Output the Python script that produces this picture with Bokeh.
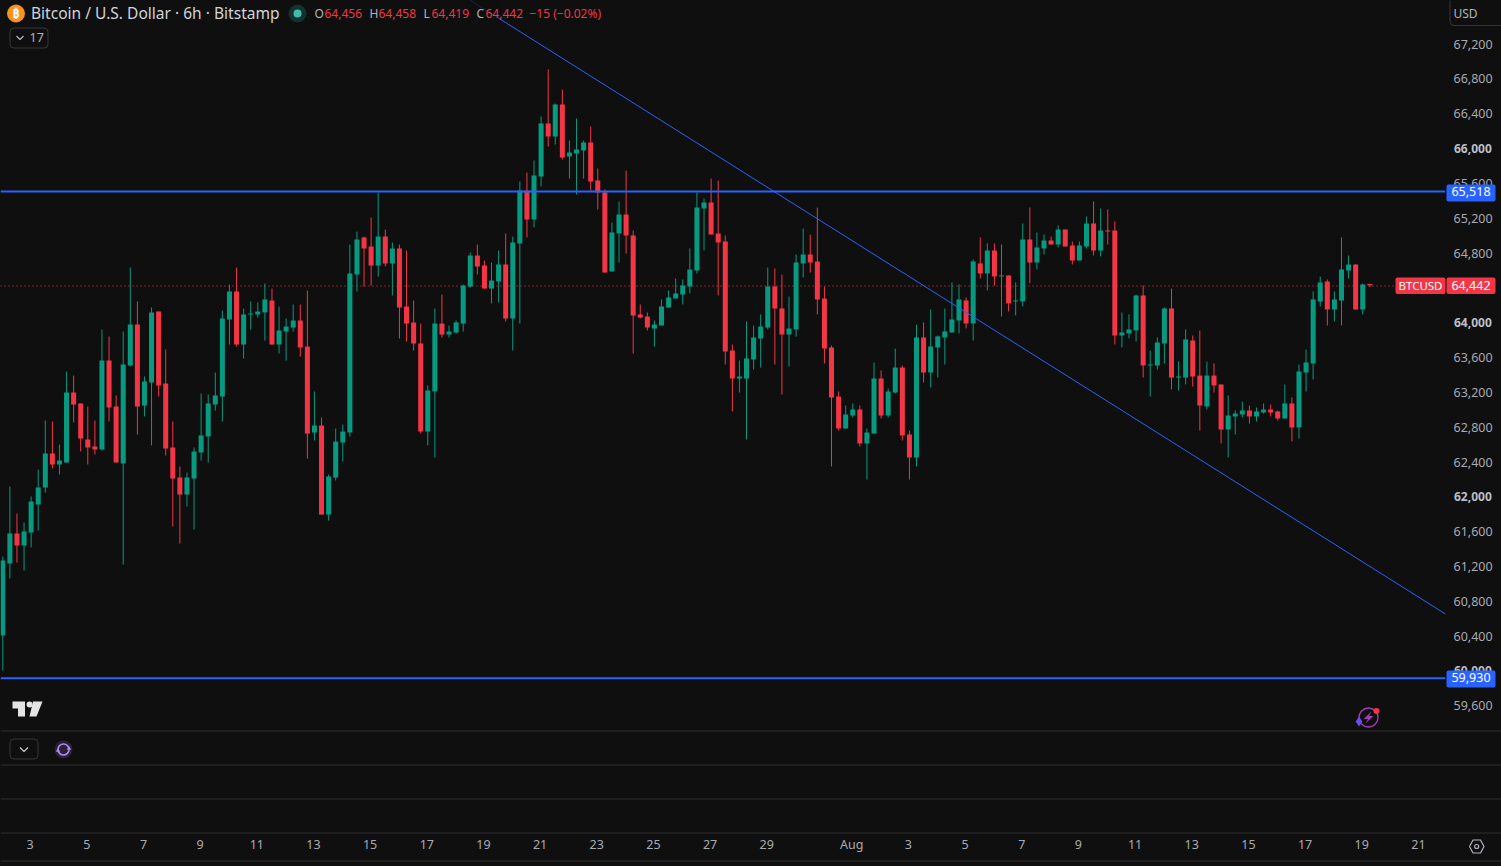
from bokeh.plotting import figure
from bokeh.embed import file_html
from bokeh.resources import INLINE
from bokeh.layouts import column
from bokeh.models import (Range1d, LinearAxis, FixedTicker, Label, Span, BoxAnnotation,
                          ColumnDataSource)

FONT = "Noto Sans"
BG = "#0f0f0f"
UP = "#089981"
DOWN = "#f23645"
BLUE = "#2962ff"
PANE = "#2e2e2e"
TXT = "#a8abb3"

direction = ("GGRGGGGRGG" "RRRRGRRGGR" "GGRRRRGGGG" "GGGRGGGGRG" "GGRRGRGGGG"
             "GRRGRGRRRR" "GGRGGGGRRG" "GRGGRGGRGR" "GGGRRRGGRR" "RRGGGGGGGG"
             "RRRRGGGGGR" "RGGGRRRRRG" "GRGGRGGRRG" "RGGGGGRGRG" "RGRGGRGGRG"
             "RRGGRGRRGG" "GRGGGRGGRR" "GRRGGGRGGR" "RGRGGGGRGG" "GRGR")
highs = [
61327,62131,61821,61718,62016,62326,62889,62877,62613,63451,
63405,63084,63049,62889,63933,63853,63176,63910,64645,64255,
63394,64186,64140,63704,62877,62360,62292,62579,63199,63187,
63440,64151,64450,64645,64174,64255,64243,64461,64404,64197,
64060,64220,64220,64381,63222,62923,62269,62797,62843,64909,
65058,65001,65219,65506,65081,64932,64909,64840,64266,64002,
63290,64174,64335,63979,64037,64450,64818,64909,64726,64703,
64841,65036,65001,65633,65736,65874,66379,66919,66528,66689,
66104,66356,66104,66264,65782,65541,65162,65403,65759,65070,
64221,64129,64037,64278,64381,64519,64508,64864,65506,65438,
65667,65644,65013,63761,63578,64025,63979,64106,64645,64634,
64565,64312,64795,65093,65024,65334,64427,63750,63222,63061,
63084,63061,62797,63555,63463,63256,63715,63520,62774,63991,
64015,64164,63865,64175,64474,64451,64302,64738,64990,64922,
64922,64910,64554,64474,65151,65335,65048,65025,65002,65128,
65082,64944,64944,65231,65404,65323,65312,65174,64129,64106,
64336,64439,63693,63842,64186,64404,63566,63934,63865,63922,
63566,63543,63302,63176,63004,63107,63061,63038,63084,63072,
63004,63302,63153,63532,63704,64370,64542,64508,64370,64990,
64783,64680,64462,64458]
body_tops = [
61281,61591,61591,61614,61959,62119,62510,62510,62429,63210,
63210,63084,62670,62590,63577,63577,63049,63531,63991,63991,
63336,64129,64140,63313,62579,62234,62234,62533,62716,63084,
63176,64060,64370,64370,64106,64117,64140,64278,64266,63922,
63968,64037,64037,63738,62831,62831,62246,62647,62762,64576,
64967,64990,64886,65001,65001,64863,64863,64197,64014,63773,
63233,64002,64002,63910,64014,64438,64783,64783,64668,64496,
64680,64680,64932,65529,65529,65702,66299,66299,66517,66517,
65966,66000,66081,66081,65644,65507,65047,65254,65254,65013,
64106,64083,63991,64198,64301,64347,64439,64622,65334,65392,
65392,65036,64944,63692,63394,63601,63842,63968,64427,64427,
64175,63945,64703,64795,64795,64714,64289,63727,63164,62958,
63015,63015,62751,63371,63371,63222,63497,63497,62728,63842,
63842,63739,63854,63911,64049,64279,64267,64715,64692,64841,
64841,64554,64554,64267,64967,64967,64876,64956,64956,65082,
65082,64899,64899,65151,65151,65071,65071,65071,63900,63934,
64324,64324,63532,63784,64175,64175,63394,63819,63807,63405,
63405,63405,63302,62946,62969,63004,63004,62992,63015,63015,
62992,63084,63084,63451,63555,64278,64473,64485,64278,64622,
64680,64680,64450,64456]
body_bottoms = [
60420,61247,61453,61453,61603,61924,62119,62383,62383,62406,
63072,62682,62579,62556,62556,63038,62406,62395,63520,63049,
63061,63325,63290,62567,62223,62039,62039,62223,62521,62705,
63072,63164,64048,63761,63761,64106,64106,64129,63761,63761,
63910,63956,63727,62739,62751,61809,61809,62234,62636,62751,
64565,64863,64668,64668,64691,64691,64186,64002,63773,62762,
62762,63222,63876,63876,63899,64002,64427,64657,64404,64404,
64485,64060,64060,64921,65197,65197,65690,66149,66149,65908,
65920,65954,65989,65633,65507,64588,64600,65036,65013,64094,
64071,63957,63945,63980,64186,64290,64335,64427,64611,65323,
65024,64932,63681,63371,63371,63371,63589,63830,63956,64175,
63876,63876,63934,64691,64703,64278,63715,63153,62797,62797,
62946,62625,62625,62739,62946,62946,63210,62717,62464,62464,
63440,63440,63727,63842,63900,64037,64003,64003,64577,64577,
64543,64543,64233,64256,64256,64703,64703,64864,64910,64910,
64887,64726,64726,64887,64841,64841,65059,63865,63865,63888,
63923,63521,63521,63520,63773,63382,63382,63382,63394,63061,
63050,63291,62785,62785,62935,62958,62935,62935,62981,62981,
62912,62912,62808,62808,63440,63543,64255,64163,64163,64267,
64611,64163,64163,64442]
lows = [
60018,61075,61258,61166,61431,61626,62062,62337,62269,62406,
62866,62533,62383,62498,62544,62877,62406,61235,63509,62728,
62935,62602,63164,62487,61672,61476,61901,61637,62429,62406,
63003,62877,63761,63738,63600,63933,64071,63807,63761,63658,
63577,63910,63623,62452,62659,61809,61740,62200,62418,62705,
64370,64427,64438,64542,64657,64324,63830,63796,63692,62739,
62602,62464,63841,63841,63887,63910,64416,64565,64404,64232,
64244,64025,63693,64002,64990,65105,65575,66035,66058,65885,
65667,65484,65667,65529,65311,64588,64600,64703,64806,63658,
64060,63922,63738,63980,64186,64290,64221,64347,64576,64841,
65024,64324,63532,62992,63210,62671,63474,63497,63934,63532,
63187,63509,63853,64531,64588,64106,63543,62361,62774,62797,
62923,62590,62211,62739,62912,62923,63199,62659,62211,62361,
63326,63268,63383,63532,63900,63888,63946,63808,64520,64382,
64439,64083,64141,64095,64198,64462,64623,64795,64910,64876,
64887,64680,64726,64864,64784,64772,64910,63762,63727,63831,
63796,63383,63165,63474,63543,63245,63233,63302,63279,62774,
63015,63210,62625,62464,62728,62923,62854,62877,62969,62935,
62889,62912,62648,62682,63222,63360,64198,63979,64025,63979,
64519,64163,64106,64419]

price_ticks = list(range(59600, 67400, 400))
bold_ticks = [60000, 62000, 64000, 66000]
date_ticks = [4, 12, 20, 28, 36, 44, 52, 60, 68, 76, 84, 92, 100, 108, 120,
              128, 136, 144, 152, 160, 168, 176, 184, 192, 200]
date_labels = ["3", "5", "7", "9", "11", "13", "15", "17", "19", "21", "23", "25", "27", "29", "Aug",
               "3", "5", "7", "9", "11", "13", "15", "17", "19", "21"]
level_high = 65518
level_low = 59930
last_price = 64442
trend_index = [66.03, 203.68]
trend_price = [67711, 60667]

W, H, FW, FH = 1501, 866, 1445, 832

# chart scales of the reference: pixels per candle, dollars per pixel
def xi(px): return (px - 2.3) / 7.083
def yp(py): return 67200 - (py - 44.5) * 11.481
def py_of(price): return 44.5 + (67200 - price) / 11.481

p = figure(width=W, height=H, output_backend="svg", toolbar_location=None,
           x_range=Range1d(xi(0), xi(FW)), y_range=Range1d(yp(FH), yp(0)),
           x_axis_location=None, y_axis_location=None,
           min_border_left=0, min_border_top=0, min_border_right=W - FW, min_border_bottom=H - FH,
           background_fill_color=None, border_fill_color=None, outline_line_color=None)
p.styles = {"background-color": BG}
p.grid.visible = False
p.frame_align = False
# small sub-pixel nudges: axis text sits 1px up/left, the dotted last-price line on a pixel centre
p.extra_y_ranges = {"axis": Range1d(yp(FH + 1), yp(1)),
                    "last": Range1d(yp(FH - 0.78), yp(-0.78))}
p.extra_x_ranges = {"axis": Range1d(xi(1), xi(FW + 1))}

overrides = {t: ("" if t in bold_ticks else f"{t:,}") for t in price_ticks}
ya = LinearAxis(ticker=FixedTicker(ticks=price_ticks), major_label_overrides=overrides,
                y_range_name="axis")
xa = LinearAxis(ticker=FixedTicker(ticks=date_ticks),
                major_label_overrides=dict(zip(date_ticks, date_labels)),
                x_range_name="axis")
for a in (ya, xa):
    a.axis_line_color = None
    a.major_tick_line_color = None
    a.minor_tick_line_color = None
    a.major_tick_out = 0
    a.major_tick_in = 0
    a.major_label_text_color = TXT
    a.major_label_text_font = FONT
    a.major_label_text_font_size = "12.5px"
ya.major_label_standoff = 8
xa.major_label_standoff = 3
p.add_layout(ya, "right")
p.add_layout(xa, "below")

up = [d == "G" for d in direction]
idx = list(range(len(highs)))
src = ColumnDataSource(dict(
    x=idx,
    open=[b if u else t for u, t, b in zip(up, body_tops, body_bottoms)],
    close=[t if u else b for u, t, b in zip(up, body_tops, body_bottoms)],
    top=body_tops, bottom=body_bottoms, high=highs, low=lows,
    color=[UP if u else DOWN for u in up]))

p.line([xi(0), xi(FW)], [last_price, last_price], line_color=DOWN, line_width=1,
       line_dash="1 3", y_range_name="last")
p.segment("x", "high", "x", "low", source=src, color="color", line_width=1)
p.vbar("x", 0.71, "top", "bottom", source=src, fill_color="color", line_color=None)
p.line(trend_index, trend_price, line_color=BLUE, line_width=1)
p.add_layout(Span(location=level_high, dimension="width", line_color=BLUE, line_width=2))
p.add_layout(Span(location=level_low, dimension="width", line_color=BLUE, line_width=2))

# transparent overlay in page pixels for the interface furniture around the chart
q = figure(width=W, height=H, output_backend="svg", toolbar_location=None,
           x_range=Range1d(0, W), y_range=Range1d(H, 0),
           x_axis_location=None, y_axis_location=None,
           min_border_left=0, min_border_top=0, min_border_right=0, min_border_bottom=0,
           background_fill_color=None, border_fill_color=None, outline_line_color=None)
q.grid.visible = False
q.margin = (-H, 0, 0, 0)
q.frame_align = False


def box(l, r, t, b, fill=None, line=None, alpha=1.0, radius=0):
    q.add_layout(BoxAnnotation(left=l, right=r, top=t, bottom=b,
                               fill_color=fill, fill_alpha=alpha if fill else 0,
                               line_color=line, line_width=1, line_alpha=1 if line else 0,
                               border_radius=radius, editable=False))


def label(x, y, text, color=TXT, size=12.5, align="left", style="normal"):
    q.add_layout(Label(x=x, y=y, text=text, text_color=color, text_font=FONT,
                       text_font_size=f"{size}px", text_align=align,
                       text_baseline="middle", text_font_style=style))


def poly(points, fill):
    q.patch([a for a, _ in points], [b for _, b in points], fill_color=fill, line_color=None)


def stroke(points, color, width=1.2):
    q.line([a for a, _ in points], [b for _, b in points], line_color=color, line_width=width)


# pane separators
for y in (730, 764, 798, 832, 860):
    box(0, W, y, y + 1, fill=PANE)

# bold price labels (sit under the price tags)
for t in bold_ticks:
    label(1453.5, py_of(t) - 1.5, f"{t:,}", color="#bcbfc7", style="bold", size=12)

# price tags
box(1446, 1495, 184, 201, fill=BLUE, radius=2)
box(1446, 1495, 670, 687, fill=BLUE, radius=2)
box(1395, 1445, 277, 293.5, fill=DOWN, radius=2)
box(1446, 1495, 277, 293.5, fill=DOWN, radius=2)
label(1470.5, py_of(level_high) - 0.5, f"{level_high:,}", "#ffffff", align="center")
label(1470.5, py_of(level_low) - 0.5, f"{level_low:,}", "#ffffff", align="center")
label(1420, 285, "BTCUSD", "#ffffff", size=11.5, align="center")
label(1470.5, 284.5, f"{last_price:,}", "#ffffff", align="center")

# USD button
box(1449.5, 1510, -5, 25, fill=BG, line="#363636", radius=4)
label(1453, 13, "USD", "#b2b5be", size=12)
stroke([(1492, 12), (1495, 15), (1498, 12)], "#b2b5be")

# dim the trend line behind the legend row
box(465, 498, 0, 18, fill=BG, alpha=0.75)

# legend
q.scatter([15.5], [13], size=18, color="#f7931a", line_color=None)
label(15.5, 13, "₿", "#ffffff", size=12, align="center", style="bold")
label(30.5, 12.5, "Bitcoin / U.S. Dollar · 6h · Bitstamp", "#d1d4dc", size=15.55)
q.scatter([297], [13], size=18, color="#12332f", line_color=None)
q.scatter([297], [13], size=8, color="#42bda8", line_color=None)
for x, t, c in [(314, "O", "#b2b5be"), (324, "64,456", DOWN), (369, "H", "#b2b5be"), (378, "64,458", DOWN),
                (423, "L", "#b2b5be"), (431, "64,419", DOWN), (476, "C", "#b2b5be"), (485, "64,442", DOWN),
                (529, "−15 (−0.02%)", DOWN)]:
    label(x, 13, t, c, size=12)

# "17" indicator button
box(9.5, 47.5, 27.5, 47.5, line="#363636", radius=4)
stroke([(16, 35.5), (19.5, 39), (23, 35.5)], "#b2b5be")
label(29, 37, "17", "#b2b5be", size=12.5)

# TradingView mark
mark = "#e4e4e4"
poly([(12, 701), (24.5, 701), (24.5, 716), (17.5, 716), (17.5, 708), (12, 708)], mark)
poly([(32.5, 701), (42, 701), (36, 716), (29, 716)], mark)
q.scatter([29], [704], size=6, color=mark, line_color=None)

# pane button and refresh badge
box(9.5, 37.5, 738.5, 758.5, line="#363636", radius=4)
stroke([(19.5, 747), (23.5, 751), (27.5, 747)], "#c8c8c8")
q.scatter([63], [749], size=18, color="#2a2038", line_color=None)
q.scatter([63], [749], size=11, fill_color=None, line_color="#a98bf0", line_width=1.6)
q.scatter([68.5, 57.5], [748, 750], marker="triangle", size=4.5, color="#a98bf0", line_color=None)

# assistant badge
q.scatter([1368], [717], size=19, fill_color=None, line_color="#9c3fb0", line_width=1.4)
poly([(1371, 711), (1363, 718.5), (1367.5, 718.5), (1365, 723), (1373, 715.5), (1368.5, 715.5)], "#9c3fb0")
q.scatter([1358.5], [721], marker="diamond", size=10, color="#6a4cf0", line_color=None)
q.scatter([1376], [710.5], size=6, color=DOWN, line_color=None)

# settings hexagon
stroke([(1469, 846), (1472.5, 839.5), (1480, 839.5), (1483.5, 846), (1480, 852.5), (1472.5, 852.5), (1469, 846)], "#b2b5be")
q.scatter([1476.2], [846], size=4, fill_color=None, line_color="#b2b5be", line_width=1.2)

open("out.html", "w").write(file_html(column(p, q), INLINE))
